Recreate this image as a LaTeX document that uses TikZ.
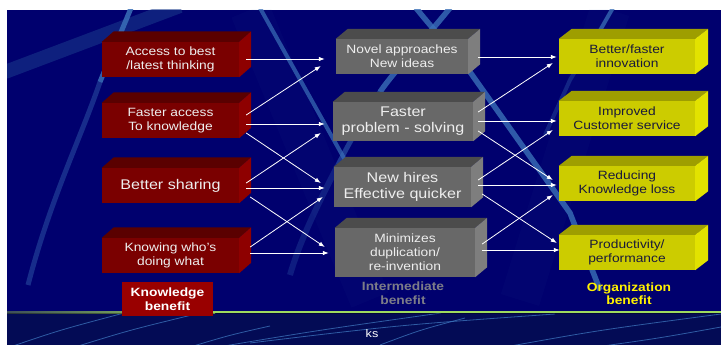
\documentclass[tikz,border=0pt]{standalone}
\usepackage{fontspec}
\setmainfont{Liberation Sans}[FakeStretch=1.15]
\usetikzlibrary{calc,arrows.meta}

\definecolor{bgblue}{HTML}{00006E}
\definecolor{bgdeep}{HTML}{030B55}
\definecolor{streak}{HTML}{3A70B8}
\definecolor{wideband}{HTML}{1A3C8C}
\definecolor{redfront}{HTML}{7A0000}
\definecolor{redtop}{HTML}{5A0000}
\definecolor{redside}{HTML}{8E0000}
\definecolor{redlabel}{HTML}{990000}
\definecolor{grayfront}{HTML}{686868}
\definecolor{graytop}{HTML}{4C4C4C}
\definecolor{grayside}{HTML}{7E7E7E}
\definecolor{yelfront}{HTML}{CCCC00}
\definecolor{yeltop}{HTML}{9E9E00}
\definecolor{yelside}{HTML}{E2E200}
\definecolor{yeltext}{HTML}{1A1A3A}
\definecolor{midtext}{HTML}{7C7C88}
\definecolor{lighttext}{HTML}{EEEEEE}
\definecolor{grass}{HTML}{9EDB5E}
\definecolor{grassdim}{HTML}{3D4F5A}

% a raised block: front face is the node, top and right faces are drawn beside it
% #1 name, #2 centre, #3 width, #4 height, #5 colour family, #6 text style, #7 text, #8 depth x, #9 depth y
\newcommand\slabbox[9]{%
  \node[fill=#5front, minimum width=#3, minimum height=#4, inner sep=0pt, #6] (#1) at #2 {#7};
  \fill[#5top] (#1.north west) -- ++(#8,-#9) -- ($(#1.north east)+(#8,-#9)$) -- (#1.north east) -- cycle;
  \fill[#5side] (#1.north east) -- ++(#8,-#9) -- ($(#1.south east)+(#8,-#9)$) -- (#1.south east) -- cycle;
}

\tikzset{
  boxtext/.style={align=center, text=lighttext, font=\fontsize{12}{14}\selectfont},
  bigtext/.style={align=center, text=lighttext, font=\fontsize{14}{16}\selectfont},
  darktext/.style={align=center, text=yeltext, font=\fontsize{12}{14}\selectfont},
  caption/.style={align=center, font=\bfseries\fontsize{12}{13.5}\selectfont},
  arr/.style={white, line width=0.8pt, -{Latex[length=6pt,width=4.5pt]}},
  streakline/.style={streak},
  floorline/.style={streak, line width=0.8pt, opacity=0.8},
}

\begin{document}
\begin{tikzpicture}[x=1pt,y=-1pt]
\useasboundingbox (0,0) rectangle (721,345);
\fill[white] (0,0) rectangle (721,345);

% backdrop
\fill[bgblue] (7,10) rectangle (721,312);
\fill[bgdeep] (7,312) rectangle (721,345);

\begin{scope}
  \clip (7,10) rectangle (721,312);
  % soft wide sweeps
  \draw[line width=40pt, streak, opacity=0.04] (250,10) -- (370,300);
  \draw[line width=40pt, streak, opacity=0.04] (610,10) -- (520,300);
  \draw[line width=14pt, wideband, opacity=0.55] (5,72) -- (180,6);
  % streaks
  \draw[streakline, line width=5pt, opacity=0.85] (131,8) .. controls (118,40) and (108,62) .. (100,82);
  \draw[streakline, line width=5pt, opacity=0.4] (100,82) .. controls (80,140) and (50,200) .. (28,285);
  \draw[streakline, line width=4pt, opacity=0.7] (260,8) -- (345,160);
  \draw[streakline, line width=5.5pt, opacity=0.8] (416,8) .. controls (440,38) and (458,55) .. (470,72) -- (570,213) -- (600,290);
  \draw[streakline, line width=5.5pt, opacity=0.8] (450,8) .. controls (420,45) and (395,70) .. (380,92);
  \draw[streakline, line width=5pt, opacity=0.5] (380,92) .. controls (362,120) and (348,145) .. (338,165);
  \draw[streakline, line width=6pt, opacity=0.25] (338,165) .. controls (320,200) and (300,240) .. (290,275);
  \draw[streakline, line width=4pt, opacity=0.75] (614,6) -- (598,34);
  \draw[streakline, line width=4pt, opacity=0.3] (598,34) -- (570,80) -- (545,135);
\end{scope}

% floor streaks
\begin{scope}
  \clip (7,313) rectangle (721,345);
  \draw[floorline] (10,347) .. controls (60,330) .. (124,313);
  \draw[floorline] (75,347) .. controls (130,330) .. (200,313);
  \draw[floorline] (190,347) .. controls (230,335) .. (270,326);
  \draw[floorline] (218,347) .. controls (320,330) .. (441,313);
  \draw[floorline] (250,343) .. controls (400,325) .. (555,314);
  \draw[floorline] (380,345) .. controls (420,330) .. (465,318);
  \draw[floorline] (505,347) .. controls (600,330) .. (721,314);
  \draw[floorline] (596,347) .. controls (660,338) .. (721,327);
\end{scope}

% horizon line
\shade[left color=grassdim, right color=grass] (7,311) rectangle (215,313.2);
\fill[grass] (215,311) rectangle (721,313.2);
\fill[black, opacity=0.35] (7,313.2) rectangle (721,314.2);

% knowledge column
\slabbox{r1}{(170.5,59.5)}{137pt}{35pt}{red}{boxtext}{Access to best\\/latest thinking}{12}{10.5}
\slabbox{r2}{(170.5,120.5)}{137pt}{35pt}{red}{boxtext}{Faster access\\To knowledge}{12}{10.5}
\slabbox{r3}{(170.5,185.5)}{137pt}{35pt}{red}{bigtext}{Better sharing}{12}{10.5}
\slabbox{r4}{(170.5,255.5)}{137pt}{35pt}{red}{boxtext}{Knowing who’s\\doing what}{12}{10.5}

% intermediate column
\slabbox{g1}{(402,56.5)}{132pt}{35pt}{gray}{boxtext}{Novel approaches\\New ideas}{12}{10}
\slabbox{g2}{(403,121.5)}{140pt}{39pt}{gray}{bigtext}{Faster\\problem - solving}{12}{10}
\slabbox{g3}{(402.5,187)}{137pt}{40pt}{gray}{bigtext}{New hires\\Effective quicker}{12}{10}
\slabbox{g4}{(405,252.5)}{140pt}{49pt}{gray}{boxtext}{Minimizes\\duplication/\\re-invention}{12}{10}

% organization column
\slabbox{y1}{(627,56.5)}{136pt}{35pt}{yel}{darktext}{Better/faster\\innovation}{13}{10}
\slabbox{y2}{(627,118.5)}{136pt}{35pt}{yel}{darktext}{Improved\\Customer service}{13}{10}
\slabbox{y3}{(627,183.5)}{136pt}{35pt}{yel}{darktext}{Reducing\\Knowledge loss}{13}{10}
\slabbox{y4}{(627,252.5)}{136pt}{35pt}{yel}{darktext}{Productivity/\\performance}{13}{10}

% knowledge -> intermediate
\draw[arr] ([shift={(7,-0.5)}]r1.east) -- ([shift={(-11,2.5)}]g1.west);
\draw[arr] ([shift={(7,-5.5)}]r2.east) -- ([shift={(-15,9.5)}]g1.west);
\draw[arr] ([shift={(7,3.5)}]r2.east) -- ([shift={(-8,2.5)}]g2.west);
\draw[arr] ([shift={(7,12.5)}]r2.east) -- ([shift={(-13,-4)}]g3.west);
\draw[arr] ([shift={(7,-2.5)}]r3.east) -- ([shift={(-12,11.5)}]g2.west);
\draw[arr] ([shift={(7,2.5)}]r3.east) -- ([shift={(-9,1)}]g3.west);
\draw[arr] ([shift={(11,11.5)}]r3.east) -- ([shift={(-10,-5.5)}]g4.west);
\draw[arr] ([shift={(11,-8.5)}]r4.east) -- ([shift={(-11,10)}]g3.west);
\draw[arr] ([shift={(11,-2.5)}]r4.east) -- ([shift={(-6,0.5)}]g4.west);

% intermediate -> organization
\draw[arr] ([shift={(10,0.5)}]g1.east) -- ([shift={(-2,0.5)}]y1.west);
\draw[arr] ([shift={(5,-9.5)}]g2.east) -- ([shift={(-6,6.5)}]y1.west);
\draw[arr] ([shift={(5,-0.5)}]g2.east) -- ([shift={(-2,2.5)}]y2.west);
\draw[arr] ([shift={(5,9.5)}]g2.east) -- ([shift={(-6,-3.5)}]y3.west);
\draw[arr] ([shift={(7,-7)}]g3.east) -- ([shift={(-6,11.5)}]y2.west);
\draw[arr] ([shift={(7,-2)}]g3.east) -- ([shift={(-2,1.5)}]y3.west);
\draw[arr] ([shift={(11,7)}]g3.east) -- ([shift={(-2,-9.5)}]y4.west);
\draw[arr] ([shift={(7,-8.5)}]g4.east) -- ([shift={(-6,11.5)}]y3.west);
\draw[arr] ([shift={(7,-2.5)}]g4.east) -- ([shift={(1,-2.5)}]y4.west);

% column captions
\node[caption, fill=redlabel, text=white, minimum width=91pt, minimum height=34pt, inner sep=0pt] (kb) at (167.5,299) {Knowledge\\benefit};
\node[caption, text=midtext, inner sep=0pt] (ib) at (403,293) {Intermediate\\benefit};
\node[caption, text=yellow, inner sep=0pt] (ob) at (629,293.5) {Organization\\benefit};

\node[text=white, font=\fontsize{11}{13}\selectfont, inner sep=0pt] (ks) at (372,334) {ks};
\end{tikzpicture}
\end{document}
